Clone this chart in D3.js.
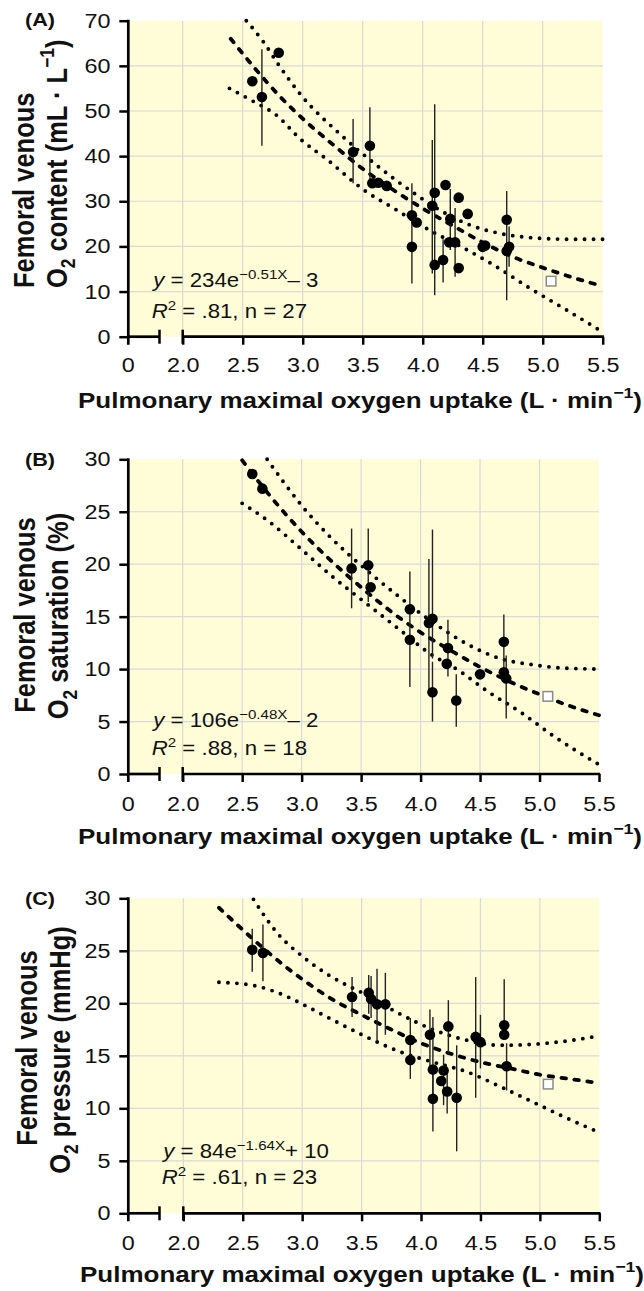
<!DOCTYPE html>
<html>
<head>
<meta charset="utf-8">
<script src="https://cdn.jsdelivr.net/npm/d3@7"></script>
<style>
  body { margin: 0; background: #fff; }
</style>
</head>
<body>
<div id="chart"></div>
<script>
// shared tick values
const xTicks = [2.0, 2.5, 3.0, 3.5, 4.0, 4.5, 5.0, 5.5];
const aYTicks = [0, 10, 20, 30, 40, 50, 60, 70];
const bYTicks = [0, 5, 10, 15, 20, 25, 30];
const cYTicks = [0, 5, 10, 15, 20, 25, 30];

// (A) O2 content
const aX  = [2.58, 2.66, 2.80, 3.42, 3.56, 3.58, 3.63, 3.70, 3.91, 3.95, 3.91, 4.08, 4.10, 4.10, 4.19, 4.17, 4.23, 4.22, 4.27, 4.30, 4.30, 4.375, 4.50, 4.52, 4.70, 4.72, 4.70];
const aY  = [56.6, 53.1, 62.9, 40.9, 42.3, 34.0, 34.1, 33.4, 26.9, 25.3, 19.9, 29.0, 31.9, 15.9, 33.6, 17.0, 26.1, 20.9, 20.9, 30.8, 15.2, 27.2, 19.9, 20.2, 25.9, 19.9, 19.0];
const aLo = [null, 42.3, null, 34.0, 34.0, null, null, null, 11.8, null, null, 14.0, 9.2, null, null, 12.0, 19.2, null, 13.3, null, null, null, null, null, 8.1, 15.5, null];
const aHi = [null, 63.7, null, 48.2, 50.8, null, null, null, 34.0, null, null, 43.6, 51.5, null, null, 21.6, 32.7, null, 28.5, null, null, null, null, null, 32.3, 24.4, null];
const aOutX = [5.07];
const aOutY = [12.3];
const aFitX = [2.4, 2.6, 2.8, 3.0, 3.25, 3.5, 3.75, 4.0, 4.25, 4.5, 4.75, 5.0, 5.25, 5.5];
const aFitY = [66.0, 59.5, 53.5, 48.3, 42.6, 37.2, 32.6, 28.4, 24.6, 20.9, 17.7, 15.3, 13.1, 11.2];
const aUpX  = [2.53, 2.67, 2.80, 2.99, 3.31, 3.62, 3.89, 4.14, 4.37, 4.64, 4.92, 5.2, 5.5];
const aUpY  = [70.0, 65.4, 60.2, 53.4, 44.9, 37.9, 32.5, 28.1, 25.0, 22.9, 21.9, 21.6, 21.6];
const aLowX = [2.39, 2.59, 2.78, 2.98, 3.20, 3.51, 3.78, 4.03, 4.31, 4.59, 4.92, 5.20, 5.5];
const aLowY = [55.0, 52.1, 49.1, 43.8, 39.3, 32.5, 28.1, 24.0, 20.1, 15.9, 10.3, 5.9, 1.0];

// (B) O2 saturation
const bX  = [2.585, 2.67, 3.42, 3.56, 3.58, 3.91, 3.91, 4.07, 4.10, 4.10, 4.23, 4.22, 4.30, 4.50, 4.70, 4.70, 4.72];
const bY  = [28.6, 27.2, 19.6, 19.9, 17.8, 15.7, 12.8, 14.4, 14.8, 7.8, 12.0, 10.5, 7.0, 9.5, 12.6, 9.7, 9.1];
const bLo = [null, null, 15.8, 16.4, null, 8.3, null, 8.0, 11.0, 5.0, 9.3, null, 4.5, null, 9.7, null, 5.3];
const bHi = [null, null, 23.4, 23.4, null, 19.3, null, 20.5, 23.3, 10.7, 14.7, null, 9.5, null, 15.2, null, 11.3];
const bOutX = [5.07];
const bOutY = [7.4];
const bFitX = [2.5, 2.75, 3.0, 3.25, 3.5, 3.75, 4.0, 4.25, 4.5, 4.75, 5.0, 5.25, 5.5];
const bFitY = [29.9, 26.3, 23.1, 20.3, 17.8, 15.5, 13.5, 11.8, 10.2, 8.8, 7.6, 6.5, 5.6];
const bUpX  = [2.71, 2.85, 3.0, 3.24, 3.55, 3.83, 4.11, 4.39, 4.67, 4.95, 5.2, 5.5];
const bUpY  = [30.0, 27.8, 25.6, 22.6, 19.4, 16.8, 14.4, 12.4, 11.0, 10.4, 10.1, 10.0];
const bLowX = [2.50, 2.71, 2.99, 3.25, 3.55, 3.83, 4.05, 4.33, 4.56, 4.84, 5.12, 5.5];
const bLowY = [25.8, 24.2, 21.5, 18.9, 16.2, 13.7, 11.7, 9.8, 7.9, 5.9, 3.6, 0.9];

// (C) O2 pressure
const cX  = [2.58, 2.67, 3.42, 3.56, 3.58, 3.63, 3.70, 3.91, 3.91, 4.075, 4.10, 4.10, 4.23, 4.19, 4.17, 4.22, 4.30, 4.46, 4.50, 4.70, 4.70, 4.72];
const cY  = [25.1, 24.8, 20.6, 21.0, 20.4, 19.9, 19.9, 16.5, 14.6, 17.0, 13.7, 10.9, 17.8, 13.6, 12.6, 11.6, 11.0, 16.8, 16.3, 17.9, 17.0, 14.0];
const cLo = [23.0, 22.1, 18.7, 19.0, 18.6, 16.5, 17.0, 14.6, 12.8, 14.0, 10.9, 7.8, 15.2, 10.3, null, 9.5, 5.9, 11.0, 13.8, 17.0, null, 11.7];
const cHi = [27.1, 27.5, 22.5, 22.7, 22.6, 23.3, 22.9, 18.6, 16.5, 19.4, 18.7, 13.7, 20.3, 15.1, null, 13.6, 16.0, 22.5, 18.9, 22.3, null, 16.2];
const cOutX = [5.07];
const cOutY = [12.3];
const cFitX = [2.3, 2.5, 2.75, 3.0, 3.25, 3.5, 3.75, 4.0, 4.25, 4.5, 4.75, 5.0, 5.25, 5.5];
const cFitY = [29.1, 27.0, 24.5, 22.3, 20.4, 18.9, 17.5, 16.2, 15.2, 14.4, 13.8, 13.2, 12.8, 12.4];
const cUpX  = [2.59, 2.79, 3.01, 3.25, 3.54, 3.82, 4.10, 4.38, 4.66, 4.94, 5.22, 5.5];
const cUpY  = [29.9, 26.7, 24.4, 22.5, 20.8, 19.0, 17.5, 16.5, 16.0, 16.1, 16.4, 16.9];
const cLowX = [2.30, 2.59, 2.84, 3.04, 3.26, 3.54, 3.82, 4.10, 4.38, 4.66, 4.94, 5.22, 5.5];
const cLowY = [22.0, 21.7, 20.8, 19.7, 18.4, 16.8, 15.4, 14.4, 13.5, 12.1, 10.6, 9.1, 7.7];

// texts: [string, kind]  kind: "" normal, "i" italic, "sup", "sub"
const xTitle = [["Pulmonary maximal oxygen uptake (L \u00b7 min", ""], ["\u22121", "sup"], [")", ""]];
const aTitle = [[["Femoral venous", ""]], [["O", ""], ["2", "sub"], [" content (mL \u00b7 L", ""], ["\u22121", "sup"], [")", ""]]];
const bTitle = [[["Femoral venous", ""]], [["O", ""], ["2", "sub"], [" saturation (%)", ""]]];
const cTitle = [[["Femoral venous", ""]], [["O", ""], ["2", "sub"], [" pressure (mmHg)", ""]]];
const aEq = [[["y", "i"], [" = 234e", ""], ["\u22120.51X", "sup"], ["\u2013 3", ""]], [["R", "i"], ["2", "sup"], [" = .81, n = 27", ""]]];
const bEq = [[["y", "i"], [" = 106e", ""], ["\u22120.48X", "sup"], ["\u2013 2", ""]], [["R", "i"], ["2", "sup"], [" = .88, n = 18", ""]]];
const cEq = [[["y", "i"], [" = 84e", ""], ["\u22121.64X", "sup"], ["+ 10", ""]], [["R", "i"], ["2", "sup"], [" = .61, n = 23", ""]]];

// page layout (pixels)
const FONT = "'Liberation Sans', Arial, Helvetica, sans-serif";
const S = 1.14;   // horizontal stretch of the lettering
const layouts = [
  { letter: "(A)", letterPos: [25, 25.5], x0: 128.3, xBreak: 159.5, x2: 182.7, x55: 602.7, top: 20.7, bottom: 336.7, yMax: 70,
    eqPos: [[153.3, 287.3], [151.7, 318.3]], xTitlePos: [78, 408], tickOff: 35,
    yTitlePos: [[33.5, 288, "start"], [66.5, 288, "start"]] },
  { letter: "(B)", letterPos: [25, 466], x0: 128.3, xBreak: 159.5, x2: 182.7, x55: 599, top: 459.3, bottom: 774, yMax: 30,
    eqPos: [[153.3, 726.7], [151.7, 755]], xTitlePos: [78, 843.5], tickOff: 37,
    yTitlePos: [[35, 615, "middle"], [68, 616, "middle"]] },
  { letter: "(C)", letterPos: [25, 904.5], x0: 128.3, xBreak: 159.5, x2: 183.3, x55: 599.3, top: 898.3, bottom: 1213.3, yMax: 30,
    eqPos: [[163.3, 1158.3], [161.7, 1184.3]], xTitlePos: [80, 1281.5], tickOff: 36.5,
    yTitlePos: [[36.5, 1048, "middle"], [69.5, 1050, "middle"]] }
];

const panels = [
  { L: layouts[0], xs: aX, ys: aY, lo: aLo, hi: aHi, outX: aOutX, outY: aOutY, fit: [aFitX, aFitY], up: [aUpX, aUpY], low: [aLowX, aLowY], yTicks: aYTicks, title: aTitle, eq: aEq },
  { L: layouts[1], xs: bX, ys: bY, lo: bLo, hi: bHi, outX: bOutX, outY: bOutY, fit: [bFitX, bFitY], up: [bUpX, bUpY], low: [bLowX, bLowY], yTicks: bYTicks, title: bTitle, eq: bEq },
  { L: layouts[2], xs: cX, ys: cY, lo: cLo, hi: cHi, outX: cOutX, outY: cOutY, fit: [cFitX, cFitY], up: [cUpX, cUpY], low: [cLowX, cLowY], yTicks: cYTicks, title: cTitle, eq: cEq }
];

const svg = d3.select("#chart").append("svg")
  .attr("width", 644)
  .attr("height", 1291)
  .style("font-family", FONT);

// text with italic / super / subscript pieces
function richText(parent, parts, size) {
  const t = parent.append("text").attr("font-size", size).attr("fill", "#111");
  let shift = 0;
  parts.forEach(([s, k]) => {
    const target = k === "sup" ? -0.42 * size : k === "sub" ? 0.3 * size : 0;
    const ts = t.append("tspan").text(s).attr("dy", target - shift);
    shift = target;
    if (k === "sup" || k === "sub") ts.attr("font-size", size * 0.68);
    if (k === "i") ts.attr("font-style", "italic");
  });
  return t;
}

function placeText(x, y, parts, size, opts = {}) {
  const g = svg.append("g")
    .attr("transform", `translate(${x},${y}) scale(${S},1)` + (opts.rotate ? " rotate(-90)" : ""));
  const t = richText(g, parts, size).attr("text-anchor", opts.anchor || "start");
  if (opts.bold) t.attr("font-weight", "bold");
  return t;
}

function drawPanel(P) {
  const L = P.L;
  const x = d3.scaleLinear().domain([2, 5.5]).range([L.x2, L.x55]);
  const y = d3.scaleLinear().domain([0, L.yMax]).range([L.bottom, L.top]);
  const g = svg.append("g");

  // background
  g.append("rect")
    .attr("x", L.x0).attr("y", L.top)
    .attr("width", L.x55 - L.x0).attr("height", L.bottom - L.top)
    .attr("fill", "#fefdd8");

  // grid
  g.selectAll(".vgrid").data(xTicks.filter(d => d < 5.5)).enter()
    .append("line")
    .attr("x1", d => x(d)).attr("x2", d => x(d))
    .attr("y1", L.top).attr("y2", L.bottom)
    .attr("stroke", "#d9d9d6").attr("stroke-width", 1.2);
  g.selectAll(".hgrid").data(P.yTicks.filter(d => d > 0 && d < L.yMax)).enter()
    .append("line")
    .attr("x1", L.x0).attr("x2", L.x55)
    .attr("y1", d => y(d)).attr("y2", d => y(d))
    .attr("stroke", "#d9d9d6").attr("stroke-width", 1.2);

  // curves
  const line = d3.line().x(d => x(d[0])).y(d => y(d[1])).curve(d3.curveMonotoneX);
  [P.up, P.low].forEach(c => {
    g.append("path")
      .attr("d", line(d3.zip(c[0], c[1])))
      .attr("fill", "none").attr("stroke", "#000")
      .attr("stroke-width", 3.9).attr("stroke-linecap", "round")
      .attr("stroke-dasharray", "0 9");
  });
  g.append("path")
    .attr("d", line(d3.zip(P.fit[0], P.fit[1])))
    .attr("fill", "none").attr("stroke", "#000")
    .attr("stroke-width", 3.8).attr("stroke-linecap", "round")
    .attr("stroke-dasharray", "4.5 8.5");

  // error bars
  const idx = d3.range(P.xs.length);
  g.selectAll(".err").data(idx.filter(i => P.lo[i] !== null)).enter()
    .append("line")
    .attr("x1", i => x(P.xs[i])).attr("x2", i => x(P.xs[i]))
    .attr("y1", i => y(P.lo[i])).attr("y2", i => y(P.hi[i]))
    .attr("stroke", "#222").attr("stroke-width", 1.4);

  // points
  g.selectAll(".pt").data(idx).enter()
    .append("circle")
    .attr("cx", i => x(P.xs[i])).attr("cy", i => y(P.ys[i]))
    .attr("r", 5.3).attr("fill", "#000");

  // open square
  g.selectAll(".out").data(d3.range(P.outX.length)).enter()
    .append("rect")
    .attr("x", i => x(P.outX[i]) - 4.8).attr("y", i => y(P.outY[i]) - 4.8)
    .attr("width", 9.6).attr("height", 9.6)
    .attr("fill", "#fff").attr("stroke", "#8a8a8a").attr("stroke-width", 1.5);

  // y axis
  const yAxis = g.append("g").attr("transform", `translate(${L.x0},0)`)
    .call(d3.axisLeft(y).tickValues(P.yTicks).tickSize(9).tickPadding(6.6));
  yAxis.select(".domain").remove();
  yAxis.attr("font-family", FONT).attr("font-size", 20.5);
  yAxis.selectAll(".tick line").attr("stroke", "#000").attr("stroke-width", 2.5);
  yAxis.selectAll(".tick text").attr("fill", "#111").attr("transform", `scale(${S},1)`);
  g.append("line")
    .attr("x1", L.x0).attr("x2", L.x0)
    .attr("y1", L.top - 1).attr("y2", L.bottom + 8)
    .attr("stroke", "#000").attr("stroke-width", 2.7);

  // x axis with break
  const xAxis = g.append("g").attr("transform", `translate(0,${L.bottom})`)
    .call(d3.axisBottom(x).tickValues(xTicks).tickSize(8).tickFormat(d3.format(".1f")));
  xAxis.select(".domain").remove();
  xAxis.attr("font-family", FONT).attr("font-size", 20.5);
  xAxis.selectAll(".tick line").attr("stroke", "#000").attr("stroke-width", 2.5);
  xAxis.selectAll(".tick text")
    .attr("y", L.tickOff).attr("dy", null)
    .attr("fill", "#111").attr("transform", `scale(${S},1)`);

  g.append("line")
    .attr("x1", L.x0).attr("x2", L.xBreak)
    .attr("y1", L.bottom).attr("y2", L.bottom)
    .attr("stroke", "#000").attr("stroke-width", 2.7);
  g.append("line")
    .attr("x1", L.x2).attr("x2", L.x55 + 1.2)
    .attr("y1", L.bottom).attr("y2", L.bottom)
    .attr("stroke", "#000").attr("stroke-width", 2.7);
  [L.xBreak, L.x2].forEach(bx => {
    g.append("line")
      .attr("x1", bx).attr("x2", bx)
      .attr("y1", L.bottom - 7).attr("y2", L.bottom + 7)
      .attr("stroke", "#000").attr("stroke-width", 2.5);
  });
  placeText(L.x0, L.bottom + L.tickOff, [["0", ""]], 20.5, { anchor: "middle" });

  // labels
  placeText(L.letterPos[0], L.letterPos[1], [[L.letter, ""]], 19, { bold: true });
  placeText(L.xTitlePos[0], L.xTitlePos[1], xTitle, 22.8, { bold: true });
  P.title.forEach((parts, k) => {
    const p = L.yTitlePos[k];
    placeText(p[0], p[1], parts, 25.5, { bold: true, rotate: true, anchor: p[2] });
  });
  P.eq.forEach((parts, k) => {
    placeText(L.eqPos[k][0], L.eqPos[k][1], parts, 19.5);
  });
}

panels.forEach(drawPanel);
</script>
</body>
</html>
